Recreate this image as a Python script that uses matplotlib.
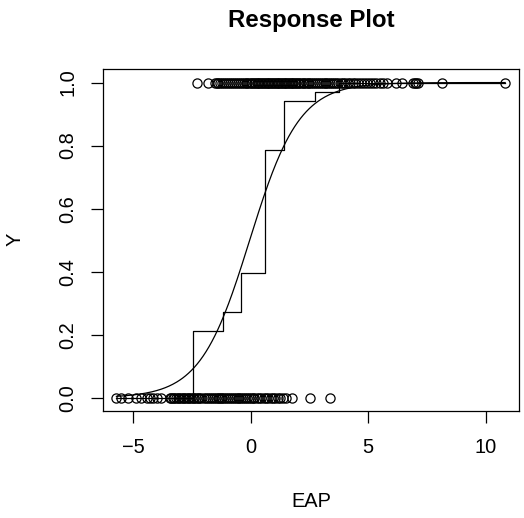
import numpy as np
import matplotlib
matplotlib.use("Agg")
import matplotlib.pyplot as plt

plt.rcParams['font.family'] = ['Liberation Sans', 'DejaVu Sans']

# EAP scores of cases with Y = 0
eap_y0 = [-5.71, -5.5, -5.2, -4.86, -4.65, -4.43, -4.3, -4.15, -4.0, -3.8,
          -3.44, -3.38, -3.31, -3.24, -3.17, -3.1, -3.03, -2.96, -2.89, -2.82,
          -2.75, -2.68, -2.61, -2.54, -2.47, -2.4, -2.33, -2.26, -2.19, -2.1,
          -2.0, -1.9, -1.8, -1.72, -1.64, -1.56, -1.48, -1.41, -1.34, -1.27,
          -1.2, -1.12, -1.04, -0.96, -0.88, -0.8, -0.72, -0.64, -0.56, -0.48,
          -0.4, -0.32, -0.24, -0.16, -0.08, 0.0, 0.08, 0.16, 0.25, 0.35,
          0.45, 0.55, 0.65, 0.75, 0.85, 0.95, 1.05, 1.15, 1.25, 1.38,
          1.52, 1.74, 2.52, 3.37]

# EAP scores of cases with Y = 1
eap_y1 = [-2.28, -1.81, -1.53, -1.45, -1.38, -1.3, -1.22, -1.12, -1.05, -0.95,
          -0.88, -0.8, -0.7, -0.62, -0.55, -0.45, -0.38, -0.3, -0.22, -0.15,
          -0.08, 0.0, 0.06, 0.12, 0.18, 0.25, 0.31, 0.37, 0.44, 0.5,
          0.56, 0.62, 0.68, 0.74, 0.8, 0.86, 0.92, 0.98, 1.04, 1.1,
          1.16, 1.22, 1.28, 1.34, 1.4, 1.46, 1.52, 1.58, 1.64, 1.7,
          1.76, 1.82, 1.88, 1.94, 2.0, 2.07, 2.14, 2.21, 2.28, 2.35,
          2.42, 2.5, 2.58, 2.66, 2.74, 2.82, 2.9, 2.98, 3.06, 3.14,
          3.22, 3.3, 3.38, 3.46, 3.55, 3.64, 3.73, 3.82, 3.92, 4.02,
          4.12, 4.22, 4.33, 4.45, 4.58, 4.7, 4.82, 4.95, 5.08, 5.2,
          5.35, 5.5, 5.64, 5.78, 6.16, 6.45, 6.92, 6.98, 7.04, 7.1,
          8.12, 10.82]

# slice proportions (step function)
step_x = [-5.71, -2.45, -1.17, -0.42, 0.63, 1.42, 2.73, 3.75, 10.82]
step_y = [0.0, 0.212, 0.273, 0.395, 0.786, 0.94, 0.97, 1.0, 1.0]

# logistic curve
b0, b1 = 0.04, 0.95

fig = plt.figure(figsize=(5.24, 5.18), dpi=100)
ax = fig.add_axes([103/524, 1 - 411/518, 416/524, 342/518])

x_all = np.array(eap_y0 + eap_y1)
y_all = np.array([0]*len(eap_y0) + [1]*len(eap_y1))
ax.plot(x_all, y_all, 'o', mfc='none', mec='black', ms=6.6, mew=0.9)

ax.step(step_x, step_y, where='post', color='black', lw=0.9)

xs = np.linspace(min(x_all), max(x_all), 400)
ax.plot(xs, 1/(1 + np.exp(-(b0 + b1*xs))), color='black', lw=0.9)

ax.set_xlim(-6.28, 11.41)
ax.set_ylim(-0.042, 1.043)
ax.set_xticks([-5, 0, 5, 10])
ax.set_yticks([0.0, 0.2, 0.4, 0.6, 0.8, 1.0])
ax.set_yticklabels(['0.0', '0.2', '0.4', '0.6', '0.8', '1.0'], rotation=90, va='center')
ax.tick_params(direction='out', length=8.6, width=0.9, labelsize=14.4)
ax.tick_params(axis='x', pad=11)
ax.tick_params(axis='y', pad=10)
for s in ax.spines.values():
    s.set_linewidth(0.9)

fig.text(311.5/524, 1 - 27.3/518, 'Response Plot', ha='center', va='baseline',
         fontsize=17.3, fontweight='bold')
fig.text(311/524, 1 - 507/518, 'EAP', ha='center', va='baseline', fontsize=14.4)
fig.text(15/524, 1 - 239/518, 'Y', ha='center', va='center', fontsize=14.4, rotation=90)

fig.savefig('out.png', dpi=100)
